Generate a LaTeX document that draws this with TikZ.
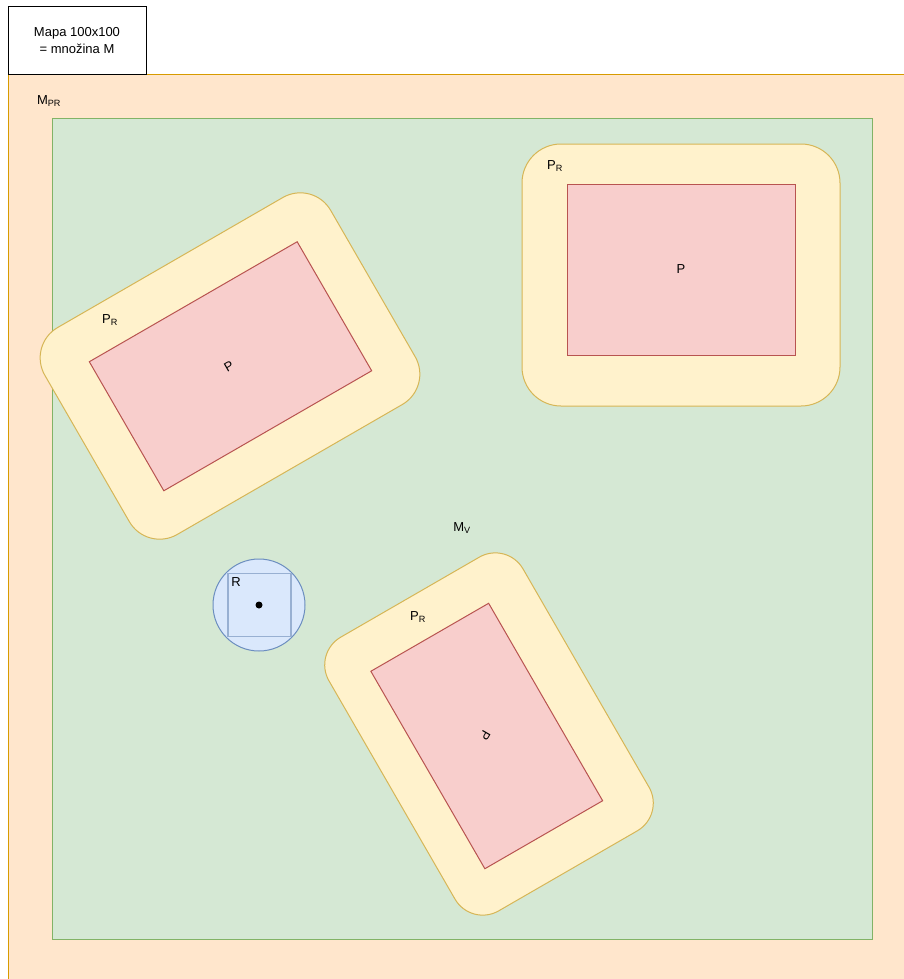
\documentclass[tikz,border=0pt]{standalone}
\usepackage{fontspec}
\setmainfont{Liberation Sans}
\definecolor{orgF}{HTML}{FFE6CC}
\definecolor{orgS}{HTML}{D79B00}
\definecolor{grnF}{HTML}{D5E8D4}
\definecolor{grnS}{HTML}{82B366}
\definecolor{ylwF}{HTML}{FFF2CC}
\definecolor{ylwS}{HTML}{D6B656}
\definecolor{redF}{HTML}{F8CECC}
\definecolor{redS}{HTML}{B85450}
\definecolor{bluF}{HTML}{DAE8FC}
\definecolor{bluS}{HTML}{6C8EBF}
\begin{document}
\begin{tikzpicture}[x=1pt,y=1pt,
  every node/.style={font=\fontsize{13}{17}\selectfont, text=black},
  area/.style={rectangle, inner sep=0pt, outer sep=0pt, line width=1pt},
  mapa/.style={area, draw=orgS, fill=orgF},
  volno/.style={area, draw=grnS, fill=grnF},
  reserve/.style={area, draw=ylwS, fill=ylwF},
  obstacle/.style={area, draw=redS, fill=redF},
  lbl/.style={inner sep=0pt}]
\useasboundingbox (0,0) rectangle (904,-979);
\begin{scope}
\clip (0,0) rectangle (904,-979);
\node[mapa, anchor=north west, minimum width=910pt, minimum height=920pt] (mpr) at (8,-75) {};
\end{scope}
\node[area, draw=black, fill=white, anchor=north west, minimum width=138pt, minimum height=68pt, align=center] (legend) at (8,-7) {Mapa 100x100\\= množina M};
\node[lbl] (mprlbl) at (49,-101) {M\textsubscript{PR}};
\node[volno, anchor=north west, minimum width=820pt, minimum height=820pt] (mv) at (52,-119) {};
\node[lbl] (mvlbl) at (462,-528) {M\textsubscript{V}};
% top-right obstacle
\node[reserve, rounded corners=39pt, anchor=north west, minimum width=318pt, minimum height=262pt] (pr1) at (522,-144) {};
\node[obstacle, anchor=north west, minimum width=228pt, minimum height=171pt] (p1) at (567,-184) {};
\node[lbl] (p1lbl) at (681,-269.5) {P};
\node[lbl] (pr1lbl) at (555,-166) {P\textsubscript{R}};
% left obstacle
\node[reserve, rounded corners=35pt, minimum width=330pt, minimum height=239pt, rotate=30] (pr2) at (230,-366) {};
\node[obstacle, minimum width=240pt, minimum height=149pt, rotate=30] (p2) at (230.5,-366.25) {};
\node[lbl, rotate=30] (p2lbl) at (229,-366) {P};
\node[lbl] (pr2lbl) at (110,-320) {P\textsubscript{R}};
% bottom obstacle
\node[reserve, rounded corners=32pt, minimum width=224pt, minimum height=316pt, rotate=30] (pr3) at (489,-734) {};
\node[obstacle, minimum width=136pt, minimum height=228pt, rotate=30] (p3) at (486.75,-736) {};
\node[lbl, rotate=-120] (p3lbl) at (485,-735) {P};
\node[lbl] (pr3lbl) at (418,-617) {P\textsubscript{R}};
% robot
\node[circle, draw=bluS, fill=bluF, line width=1pt, minimum size=92pt, inner sep=0pt] (robot) at (259,-605) {};
\node[rectangle, draw=bluS!70, line width=1.5pt, minimum size=63pt, inner sep=0pt] (rsq) at (259.5,-605) {};
\node[circle, fill=black, minimum size=7pt, inner sep=0pt] (rc) at (259,-605) {};
\node[lbl] (rlbl) at (236,-582) {R};
\end{tikzpicture}
\end{document}
